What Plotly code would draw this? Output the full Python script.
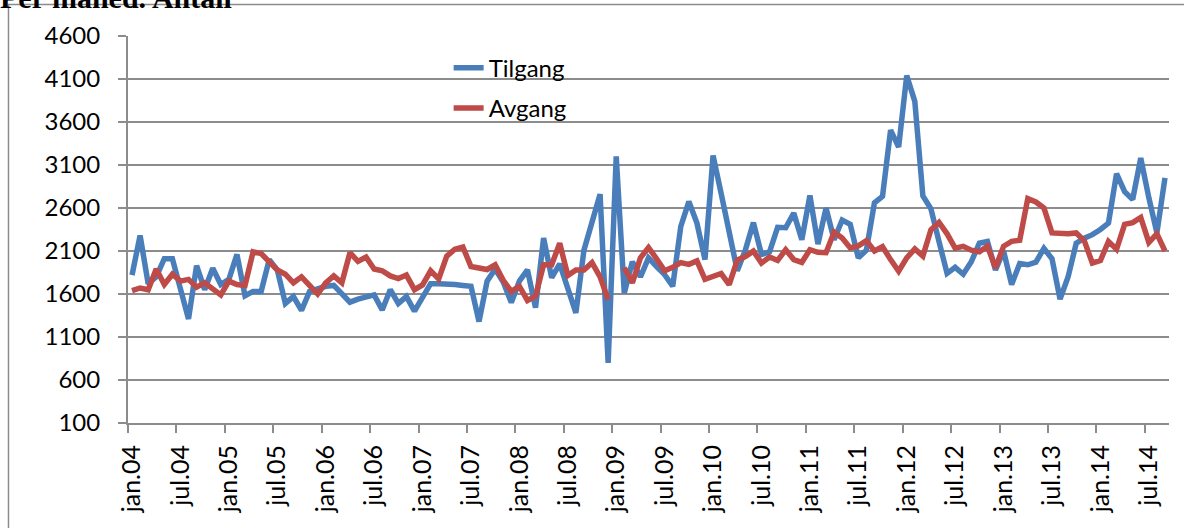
import plotly.graph_objects as go

month_abbr = ["jan", "feb", "mar", "apr", "mai", "jun", "jul", "aug", "sep", "okt", "nov", "des"]
years = ["04", "05", "06", "07", "08", "09", "10", "11", "12", "13", "14"]
months = [f"{m}.{y}" for y in years for m in month_abbr][:129]  # jan.04 .. sep.14

tilgang = [
    1820, 2280, 1720, 1800, 2010, 2010, 1660, 1310, 1930, 1650, 1900, 1710,
    1770, 2060, 1580, 1630, 1630, 2000, 1880, 1490, 1570, 1410, 1630, 1660,
    1690, 1700, 1610, 1505, 1540, 1570, 1590, 1415, 1650, 1490, 1570, 1400,
    1550, 1720, 1720, 1720, 1710, 1700, 1690, 1280, 1750, 1890, 1740, 1500,
    1750, 1880, 1440, 2250, 1790, 1950, 1650, 1380, 2110, 2460, 2760, 800,
    3200, 1610, 1975, 1800, 2020, 1920, 1825, 1690, 2385, 2675, 2425, 2000,
    3210, 2770, 2350, 1870, 2110, 2430, 2060, 2090, 2375, 2370, 2540, 2230,
    2745, 2180, 2600, 2230, 2460, 2410, 2020, 2110, 2660, 2735, 3505, 3310,
    4140, 3840, 2740, 2590, 2210, 1840, 1910, 1830, 1975, 2190, 2210, 1880,
    2100, 1710, 1955, 1940, 1970, 2130, 2010, 1540, 1800, 2190, 2250, 2290,
    2350, 2425, 3000, 2790, 2700, 3180, 2720, 2310, 2950,
]

avgang = [
    1640, 1670, 1650, 1890, 1710, 1830, 1750, 1770, 1680, 1730, 1660, 1590,
    1750, 1710, 1700, 2090, 2070, 1970, 1880, 1830, 1730, 1800, 1695, 1600,
    1730, 1810, 1730, 2080, 1980, 2030, 1890, 1870, 1810, 1780, 1820, 1650,
    1705, 1870, 1775, 2040, 2120, 2145, 1920, 1900, 1885, 1940, 1760, 1630,
    1690, 1525, 1575, 1940, 1940, 2190, 1815, 1880, 1880, 1965, 1800, 1535,
    None, 1905, 1730, 2020, 2140, 2010, 1870, 1910, 1965, 1945, 1985, 1770,
    1805, 1838, 1708, 1995, 2035, 2098, 1960, 2030, 1990, 2115, 2000, 1968,
    2115, 2085, 2080, 2320, 2250, 2135, 2160, 2220, 2100, 2150, 2000, 1865,
    2020, 2125, 2040, 2348, 2433, 2300, 2134, 2155, 2110, 2090, 2155, 1905,
    2155, 2212, 2224, 2710, 2670, 2600, 2310, 2300, 2300, 2310, 2220, 1960,
    1990, 2210, 2120, 2410, 2430, 2490, 2200, 2300, 2100,
]

y_ticks = [100, 600, 1100, 1600, 2100, 2600, 3100, 3600, 4100, 4600]

idx = list(range(len(months)))
label_pos = idx[::6]
label_text = months[::6]
boundary_pos = [p - 0.5 for p in label_pos]

FONT = "Lato"
GRID = "#8c8c8c"
BLUE = "#4a7ebb"
RED = "#be4b48"

fig = go.Figure()
fig.add_trace(go.Scatter(x=idx, y=tilgang, mode="lines", name="Tilgang",
                         line=dict(color=BLUE, width=5.5), legendgroup="a"))
fig.add_trace(go.Scatter(x=idx, y=avgang, mode="lines", name="Avgang",
                         line=dict(color=RED, width=5.5), connectgaps=False, legendgroup="b"))

fig.update_layout(
    width=1184, height=528,
    margin=dict(l=128, r=15, t=36, b=105),
    paper_bgcolor="white", plot_bgcolor="white",
    font=dict(family=FONT, size=24, color="black"),
    showlegend=True,
    legend=dict(x=0.308, y=0.975, xanchor="left", yanchor="top",
                bgcolor="rgba(0,0,0,0)", font=dict(family=FONT, size=24),
                traceorder="grouped", tracegroupgap=6),
    xaxis=dict(
        range=[-0.5, len(months) - 0.5],
        tickmode="array", tickvals=label_pos, ticktext=label_text,
        tickangle=-90, ticks="", showgrid=False, zeroline=False,
        showline=True, linecolor=GRID, linewidth=2,
        ticklabelstandoff=10,
        minor=dict(tickmode="array", tickvals=boundary_pos, ticks="outside",
                   ticklen=8, tickwidth=2, tickcolor=GRID, showgrid=False),
        tickfont=dict(family=FONT, size=25),
    ),
    yaxis=dict(
        range=[100, 4600], tickmode="array", tickvals=y_ticks,
        showgrid=True, gridcolor=GRID, gridwidth=2, zeroline=False,
        showline=True, linecolor=GRID, linewidth=2,
        ticks="outside", ticklen=8, tickwidth=2, tickcolor=GRID,
        ticklabelstandoff=13,
        tickfont=dict(family=FONT, size=24),
    ),
    annotations=[dict(
        text="<b>Per måned. Antall</b>", xref="paper", yref="paper",
        x=-0.125, y=1.1, xanchor="left", yanchor="middle", showarrow=False,
        font=dict(family="Liberation Serif", size=30, color="black"),
    )],
    shapes=[dict(type="rect", xref="paper", yref="paper",
                 x0=-0.1148, x1=1.03, y0=-0.35, y1=1.0815,
                 line=dict(color=GRID, width=1.5), layer="below")],
)

fig.write_html("out.html", config={"displayModeBar": False},
               post_script="document.body.style.margin='0px';document.body.style.overflow='hidden';")
